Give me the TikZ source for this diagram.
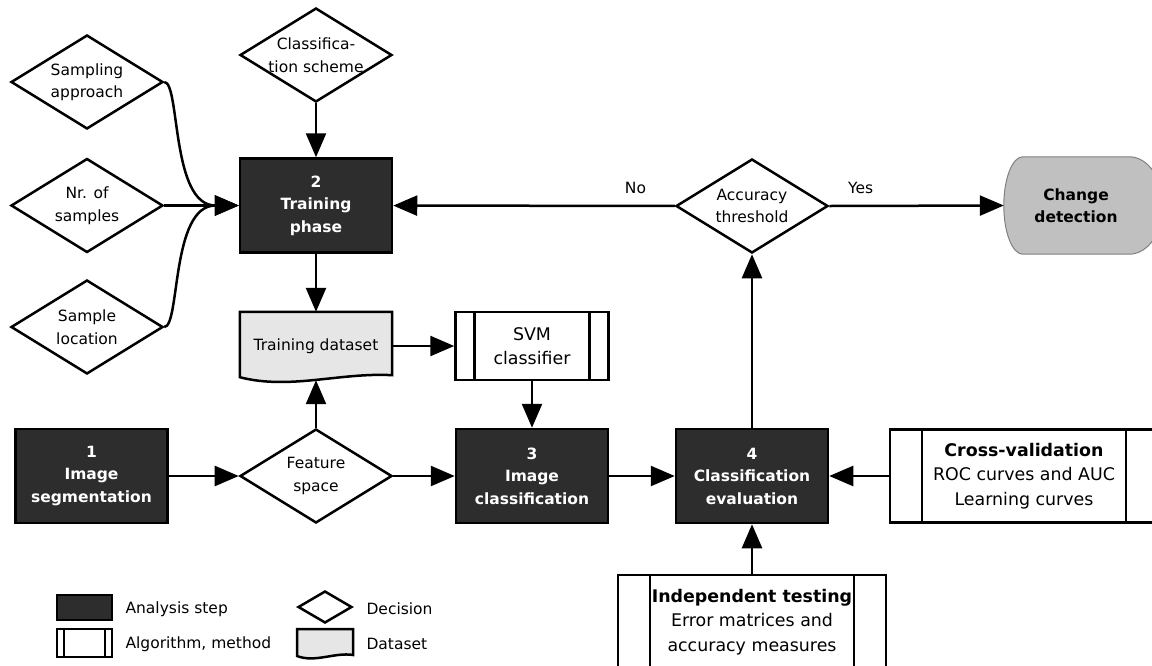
\documentclass[tikz,border=0pt]{standalone}
\usepackage{fontspec}
\setmainfont{DejaVu Sans}
\usetikzlibrary{arrows.meta,shapes.geometric,backgrounds}
\definecolor{stepGray}{RGB}{45,45,45}
\definecolor{dataGray}{RGB}{230,230,230}
\definecolor{changeGray}{RGB}{192,192,192}

\begin{document}
\begin{tikzpicture}
[x=1pt, y=-1pt, font=\fontsize{15.5}{22.5}\selectfont,
 lineDecorate/.style={-{Triangle[length=24pt,width=20pt]},line width=2.5pt},
 stepDecorate/.style={shape=rectangle,draw,line width=2.5pt,fill=stepGray,text=white,align=center,
   font=\fontsize{15.5}{22.5}\selectfont\bfseries,minimum width=152pt,minimum height=94pt,inner sep=0pt},
 decisionDecorate/.style={shape=diamond,draw,line width=2.5pt,fill=white,minimum width=152pt,minimum height=94pt,inner sep=0pt},
 decisionText/.style={align=center,inner sep=0pt},
 algoDecorate/.style={shape=rectangle,draw,line width=2.5pt,fill=white,align=center,inner sep=0pt,
   font=\fontsize{17.4}{24.5}\selectfont,
   path picture={
     \draw[line width=2.5pt] ([xshift=#1]path picture bounding box.north west) -- ([xshift=#1]path picture bounding box.south west);
     \draw[line width=2.5pt] ([xshift=-#1]path picture bounding box.north east) -- ([xshift=-#1]path picture bounding box.south east);}},
 dataDecorate/.style={draw,line width=2.5pt,fill=dataGray},
 edgeLabel/.style={above=11pt,inner sep=0pt}]

\useasboundingbox (0,0) rectangle (1152,665);

 % decisions
 \node (scheme) at (316,55) [decisionDecorate] {};
 \node (samp) at (87,82) [decisionDecorate] {};
 \node (nsamp) at (87,205.5) [decisionDecorate] {};
 \node (loc) at (87,327) [decisionDecorate] {};
 \node (feat) at (316,476) [decisionDecorate] {};
 \node (acc) at (752,206) [decisionDecorate] {};
 \node (schemeText) at (scheme) [decisionText] {Classifica-\\tion scheme};
 \node (sampText) at (samp) [decisionText] {Sampling\\approach};
 \node (nsampText) at (nsamp) [decisionText] {Nr. of\\samples};
 \node (locText) at (loc) [decisionText] {Sample\\location};
 \node (featText) at (feat) [decisionText] {Feature\\space};
 \node (accText) at (acc) [decisionText] {Accuracy\\threshold};

 % analysis steps
 \node (train) at (316,205.5) [stepDecorate] {2\\Training\\phase};
 \node (seg) at (91.5,476) [stepDecorate] {1\\Image\\segmentation};
 \node (cls) at (532,476) [stepDecorate] {3\\Image\\classification};
 \node (eval) at (752,476) [stepDecorate] {4\\Classification\\evaluation};

 % algorithms, methods
 \node (svm) at (532,346) [algoDecorate=19pt, minimum width=153pt, minimum height=68pt] {SVM\\classifier};
 \node (cross) at (1024,476) [algoDecorate=32pt, minimum width=268pt, minimum height=93pt]
   {\textbf{Cross-validation}\\ROC curves and AUC\\Learning curves};
 \node (indep) at (752,622) [algoDecorate=32pt, minimum width=268pt, minimum height=94pt]
   {\textbf{Independent testing}\\Error matrices and\\accuracy measures};

 % dataset
 \node (tds) at (316,346) [minimum width=152pt, minimum height=68pt, inner sep=0pt] {\raisebox{2pt}{Training dataset}};
 % change detection
 \node (change) at (1076,205.5) [minimum width=106pt, minimum height=97pt, inner sep=0pt, align=center,
   font=\fontsize{15.5}{22.5}\selectfont\bfseries] {Change\\detection};
 \coordinate (changeLeft) at ([xshift=-19pt]change.west);
 \coordinate (changeRight) at ([xshift=34pt]change.east);
 \begin{scope}[on background layer]
 \draw[dataDecorate] (tds.north west) -- (tds.north east) -- ([yshift=5pt]tds.south east)
   .. controls +(-52,-3) and +(50,13) .. ([yshift=3pt]tds.south west) -- cycle;
 \draw[gray, line width=1pt, fill=changeGray] (change.north west) -- (change.north east)
   .. controls +(18.8,0) and +(0,-26.8) .. (changeRight)
   .. controls +(0,26.8) and +(18.8,0) .. (change.south east) -- (change.south west)
   .. controls +(-10.5,0) and +(0,26.8) .. (changeLeft)
   .. controls +(0,-26.8) and +(-10.5,0) .. (change.north west) -- cycle;
 \end{scope}

\path
\foreach \startnode/\endnode in {scheme/train,nsamp/train,train/tds,tds/svm,svm/cls,seg/feat,feat/tds,feat/cls,cls/eval,cross/eval,indep/eval,eval/acc}
        {
          (\startnode) edge[lineDecorate] (\endnode)
        }
 (acc) edge[lineDecorate] node[edgeLabel, pos=0.14] {No} (train)
 (acc.east) edge[lineDecorate] node[edgeLabel, pos=0.18] {Yes} (changeLeft);

 \draw[lineDecorate] (samp.east) .. controls +(16,0) and +(-68,0) .. (train.west);
 \draw[lineDecorate] (loc.east) .. controls +(16,0) and +(-68,0) .. (train.west);

 % legend
 \node (legStep) at (84.5,607.5) [stepDecorate, minimum width=55pt, minimum height=25pt] {};
 \node (legAlgo) at (84.5,643) [algoDecorate=7pt, minimum width=55pt, minimum height=28pt] {};
 \node (legDec) at (325,607) [decisionDecorate, minimum width=54pt, minimum height=32pt] {};
 \draw[dataDecorate] (297,629) -- (353,629) -- (353,655) .. controls (335,652) and (315,663) .. (297,656) -- cycle;
 \node (legStepText) at (122,609) [anchor=west] {Analysis step};
 \node (legAlgoText) at (122,644) [anchor=west] {Algorithm, method};
 \node (legDecText) at (363,609) [anchor=west] {Decision};
 \node (legDataText) at (363,644) [anchor=west] {Dataset};

\end{tikzpicture}
\end{document}
